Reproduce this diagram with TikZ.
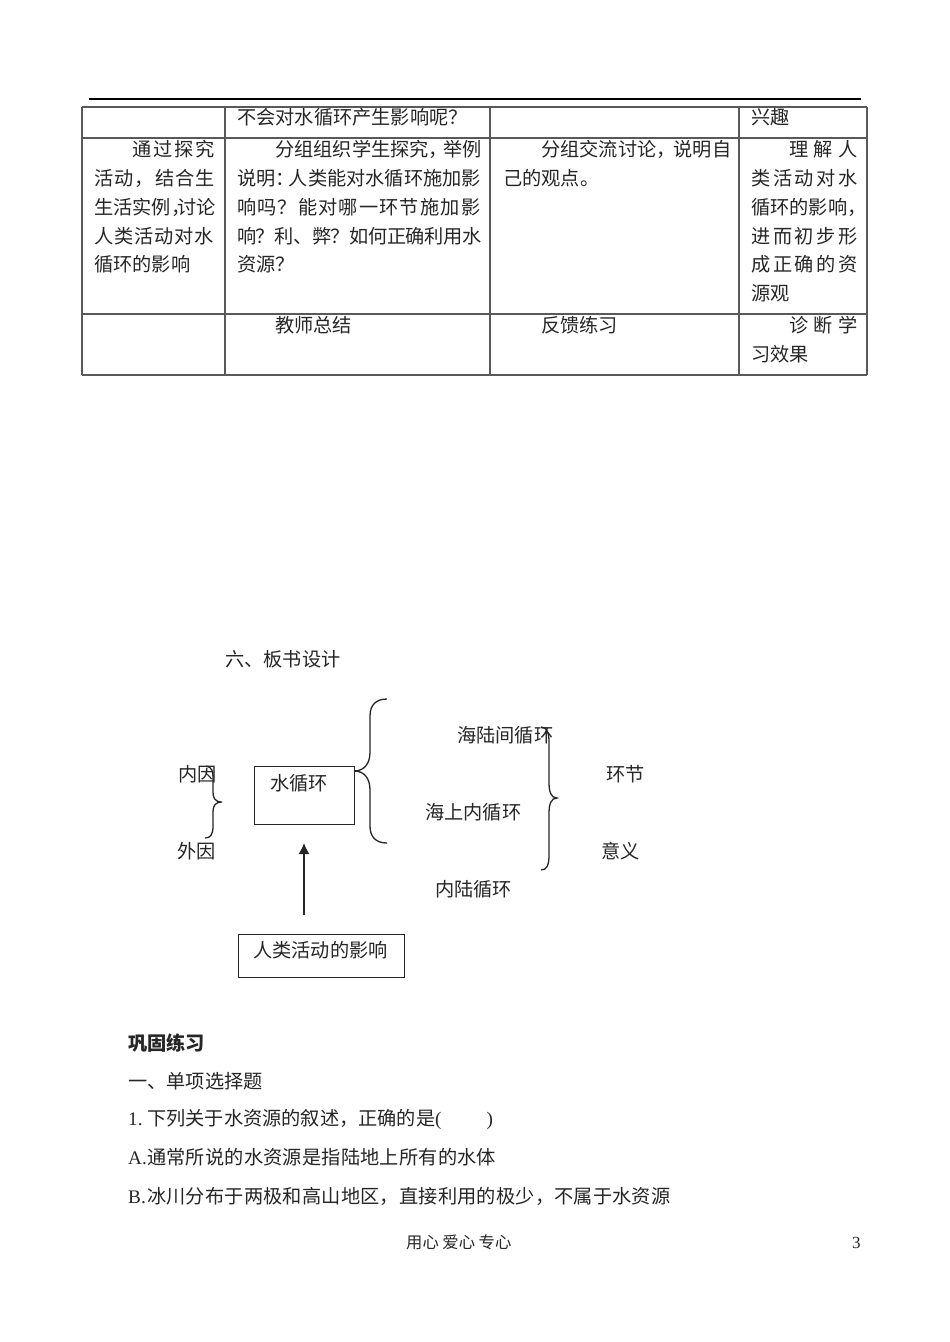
\documentclass[tikz,border=0pt]{standalone}
\usepackage{fontspec}
\usetikzlibrary{arrows.meta}
\setmainfont{Noto Sans CJK SC}
\newfontfamily\latinfont{Liberation Serif}
\newcommand{\spread}[2]{{\addfontfeatures{LetterSpace=#1}#2}}
\newcommand{\dou}[1]{，\kern-#1pt}
\newcommand{\num}[1]{\makebox[19pt][l]{\latinfont #1}}
\tikzset{
  txt/.style={anchor=west, inner sep=0pt, font=\fontsize{19.2}{19.2}\selectfont, text=black!85},
  boxline/.style={line width=1.5pt, black!85},
  gridline/.style={line width=1.2pt, black!65},
  bracket/.style={line width=1.3pt, black!85},
}
\begin{document}
\begin{tikzpicture}[x=1pt,y=-1pt]
\useasboundingbox[fill=white] (0,0) rectangle (950,1342);

%%%%%%%%%%%%%-------------tabla
\draw[line width=1.5pt] (89,99)--(861,99);
\foreach \y in {107,138,314,375}{
\draw[gridline] (82,\y)--(867,\y);}
\foreach \x in {82,225,490,739,867}{
\draw[gridline] (\x,107)--(\x,375);}

\node[txt] (a1) at (237,117) {不会对水循环产生影响呢？};
\node[txt] (d1) at (751,117) {兴趣};

\node[txt] (b1) at (132,149) {\spread{10.5}{通过探究}};
\node[txt] (b2) at (94,178) {\spread{6}{活动，结合生}};
\node[txt] (b3) at (94,207) {生活实例\dou{13}讨论};
\node[txt] (b4) at (94,236) {\spread{4.5}{人类活动对水}};
\node[txt] (b5) at (94,264) {循环的影响};

\node[txt] (a2) at (275,149) {分组组织学生探究\dou{5}举例};
\node[txt] (a3) at (237,178) {说明：\kern-6pt 人类能对水循环施加影};
\node[txt] (a4) at (237,207) {\spread{6}{响吗？能对哪一环节施加影}};
\node[txt] (a5) at (237,236) {\spread{-2.4}{响？利、弊？如何正确利用水}};
\node[txt] (a6) at (237,264) {资源？};

\node[txt] (c1) at (541,149) {分组交流讨论\dou{2}说明自};
\node[txt] (c2) at (503,178) {己的观点。};

\node[txt] (d2) at (789,149) {\spread{29}{理解人}};
\node[txt] (d3) at (751,178) {\spread{14}{类活动对水}};
\node[txt] (d4) at (751,207) {循环的影响，};
\node[txt] (d5) at (751,236) {\spread{14}{进而初步形}};
\node[txt] (d6) at (751,264) {\spread{14}{成正确的资}};
\node[txt] (d7) at (751,293) {源观};

\node[txt] (a7) at (275,325) {教师总结};
\node[txt] (c3) at (541,325) {反馈练习};
\node[txt] (d8) at (789,325) {\spread{29}{诊断学}};
\node[txt] (d9) at (751,354) {习效果};

%%%%%%%%%%%%%-------------esquema
\node[txt] (titulo) at (225,659) {六、板书设计};

\node[txt] (neiyin) at (178,774) {内因};
\node[txt] (waiyin) at (177,851) {外因};
\draw[bracket] (206,766) .. controls (212,767) and (213,771) .. (213,778)--(213,792) .. controls (213,798) and (215,802) .. (222,802) .. controls (215,802) and (213,806) .. (213,812)--(213,826) .. controls (213,834) and (211,838) .. (205,838);

\node[draw, boxline, minimum width=100pt, minimum height=58pt, anchor=north west, inner sep=0pt] (ciclo) at (253.5,765.5) {};
\node[txt] (ciclotxt) at (270,783) {水循环};

\draw[bracket] (387,699) .. controls (376,699) and (370,705) .. (370,716)--(370,752) .. controls (370,764) and (364,771) .. (354,771) .. controls (364,771) and (370,778) .. (370,790)--(370,826) .. controls (370,837) and (376,843) .. (387,843);

\node[txt] (hailu) at (457,735) {海陆间循环};
\node[txt] (haishang) at (425,812) {海上内循环};
\node[txt] (neilu) at (435,889) {内陆循环};

\draw[bracket] (541,727) .. controls (547,727) and (549,733) .. (549,742)--(549,782) .. controls (549,792) and (551,798) .. (557,798) .. controls (551,798) and (549,804) .. (549,814)--(549,855) .. controls (549,865) and (547,870) .. (541,870);

\node[txt] (huanjie) at (606,774) {环节};
\node[txt] (yiyi) at (601,851) {意义};

\node[draw, boxline, minimum width=166pt, minimum height=43pt, anchor=north west, inner sep=0pt] (humano) at (237.5,933.5) {};
\node[txt] (humanotxt) at (253,950) {人类活动的影响};

\coordinate (flechaini) at (304,915);
\coordinate (flechafin) at (304,843);
\draw[-{Latex[length=11pt,width=11pt]}, line width=1.4pt, black!85] (flechaini)--(flechafin);

%%%%%%%%%%%%%-------------ejercicios
\node[txt, font=\fontsize{19.2}{19.2}\selectfont\bfseries] (e1) at (128,1043) {巩固练习};
\node[txt] (e2) at (128,1081) {一、单项选择题};
\node[txt] (e3) at (128,1119) {\num{1.}下列关于水资源的叙述，正确的是{\latinfont (\hspace{45pt})}};
\node[txt] (e4) at (128,1157) {\num{A.}\spread{1}{通常所说的水资源是指陆地上所有的水体}};
\node[txt] (e5) at (128,1196) {\num{B.}\spread{1}{冰川分布于两极和高山地区，直接利用的极少，不属于水资源}};

\node[txt, font=\fontsize{16.3}{16}\selectfont] (pie) at (406,1242) {用心 爱心 专心};
\node[txt, font=\fontsize{17}{17}\selectfont\latinfont] (pagina) at (852,1243) {3};

\end{tikzpicture}
\end{document}
